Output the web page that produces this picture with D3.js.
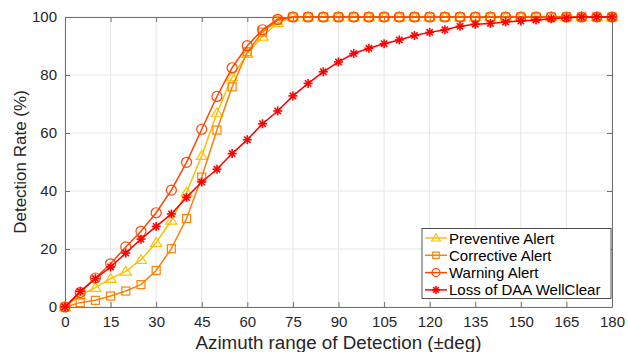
<!DOCTYPE html>
<html>
<head>
<meta charset="utf-8">
<script src="https://cdn.jsdelivr.net/npm/d3@7"></script>
<style>
  body { margin: 0; background: #fff; }
  svg { display: block; font-family: "Liberation Sans", Arial, sans-serif; }
</style>
</head>
<body>
<div id="chart"></div>
<script>
// Азимут (±град)
const azimuth = d3.range(0, 181, 5);

// Значения серий (%), 0..75, дальше 100
const preventive = [0, 4, 6.7, 9.8, 12.3, 16.3, 22.2, 29.9, 39.5, 52.2, 66.9, 79.3, 87.4, 93.3, 98, 100,
  100, 100, 100, 100, 100, 100, 100, 100, 100, 100, 100, 100, 100, 100, 100, 100, 100, 100, 100, 100, 100];
const corrective = [0, 1.5, 2.3, 3.8, 5.5, 7.7, 12.6, 20.1, 30.5, 44.8, 61, 75.9, 88, 94.8, 98.9, 100,
  100, 100, 100, 100, 100, 100, 100, 100, 100, 100, 100, 100, 100, 100, 100, 100, 100, 100, 100, 100, 100];
const warning = [0, 5, 10, 14.9, 20.7, 26.1, 32.5, 40.3, 49.9, 61.3, 72.6, 82.5, 90.1, 95.6, 99.2, 100,
  100, 100, 100, 100, 100, 100, 100, 100, 100, 100, 100, 100, 100, 100, 100, 100, 100, 100, 100, 100, 100];
const lossWellClear = [0, 5.4, 9.8, 13.8, 18.6, 23.4, 27.8, 32.1, 37.8, 43.1, 47.5, 52.9, 57.7, 63.2, 67.6, 72.8,
  77.1, 81.1, 84.5, 87.4, 89.2, 90.8, 92.1, 93.6, 94.7, 95.6, 96.8, 97.5, 97.8, 98.3, 98.6, 99, 99.4, 99.7, 100, 100, 100];

const xTicks = d3.range(0, 181, 15);
const yTicks = [0, 20, 40, 60, 80, 100];

const seriesNames = ['Preventive Alert', 'Corrective Alert', 'Warning Alert', 'Loss of DAA WellClear'];
const seriesColors = ['#FFC000', '#FF8000', '#FF4500', '#FF0000'];
const seriesMarkers = ['triangle', 'square', 'circle', 'star'];
const seriesValues = [preventive, corrective, warning, lossWellClear];

const W = 628, H = 352;
const margin = { left: 65, right: 16, top: 17, bottom: 45 };

const svg = d3.select('#chart').append('svg')
  .attr('width', W)
  .attr('height', H);

const x = d3.scaleLinear().domain([0, 180]).range([margin.left, W - margin.right]);
const y = d3.scaleLinear().domain([0, 100]).range([H - margin.bottom, margin.top]);

// Сетка
const grid = svg.append('g');
grid.selectAll('.gx').data(xTicks).enter().append('line')
  .attr('x1', d => x(d)).attr('x2', d => x(d))
  .attr('y1', y(0)).attr('y2', y(100))
  .attr('stroke', '#e6e6e6').attr('stroke-width', 1);
grid.selectAll('.gy').data(yTicks).enter().append('line')
  .attr('x1', x(0)).attr('x2', x(180))
  .attr('y1', d => y(d)).attr('y2', d => y(d))
  .attr('stroke', '#e6e6e6').attr('stroke-width', 1);

// Оси (тики внутрь)
svg.append('g')
  .attr('transform', `translate(0,${y(0)})`)
  .call(d3.axisBottom(x).tickValues(xTicks).tickSizeInner(-5).tickSizeOuter(0).tickPadding(9));
svg.append('g')
  .attr('transform', `translate(${x(0)},0)`)
  .call(d3.axisLeft(y).tickValues(yTicks).tickSizeInner(-5).tickSizeOuter(0).tickPadding(8));
// Верх и право
svg.append('g')
  .attr('transform', `translate(0,${y(100)})`)
  .call(d3.axisTop(x).tickValues(xTicks).tickSizeInner(-5).tickSizeOuter(0).tickFormat(''));
svg.append('g')
  .attr('transform', `translate(${x(180)},0)`)
  .call(d3.axisRight(y).tickValues(yTicks).tickSizeInner(-5).tickSizeOuter(0).tickFormat(''));

svg.selectAll('.domain').attr('stroke', '#707070');
svg.selectAll('.tick line').attr('stroke', '#707070');
svg.selectAll('.tick text')
  .attr('fill', '#262626')
  .attr('font-size', '15px')
  .attr('font-family', '"Liberation Sans", Arial, sans-serif');

// Подписи осей
svg.append('text')
  .attr('x', (x(0) + x(180)) / 2)
  .attr('y', 349)
  .attr('text-anchor', 'middle')
  .attr('font-size', '18.8px')
  .attr('fill', '#262626')
  .text('Azimuth range of Detection (\u00b1deg)');
svg.append('text')
  .attr('transform', `translate(26,${(y(0) + y(100)) / 2}) rotate(-90)`)
  .attr('text-anchor', 'middle')
  .attr('font-size', '17px')
  .attr('fill', '#262626')
  .text('Detection Rate (%)');

// Маркеры
function drawMarker(g, type, color, cx, cy, s) {
  if (type === 'triangle') {
    g.append('path')
      .attr('d', `M${cx},${cy - s}L${cx + s * 1.1},${cy + s * 0.75}L${cx - s * 1.1},${cy + s * 0.75}Z`)
      .attr('fill', 'none').attr('stroke', color).attr('stroke-width', 1.2);
  } else if (type === 'square') {
    g.append('rect')
      .attr('x', cx - s * 0.8).attr('y', cy - s * 0.8)
      .attr('width', s * 1.6).attr('height', s * 1.6)
      .attr('fill', 'none').attr('stroke', color).attr('stroke-width', 1.2);
  } else if (type === 'circle') {
    g.append('circle')
      .attr('cx', cx).attr('cy', cy).attr('r', s)
      .attr('fill', 'none').attr('stroke', color).attr('stroke-width', 1.2);
  } else {
    for (let a = 0; a < 4; a++) {
      const ang = a * Math.PI / 4;
      g.append('line')
        .attr('x1', cx - Math.cos(ang) * s).attr('y1', cy - Math.sin(ang) * s)
        .attr('x2', cx + Math.cos(ang) * s).attr('y2', cy + Math.sin(ang) * s)
        .attr('stroke', color).attr('stroke-width', 1.6);
    }
  }
}

const line = d3.line().x((d, i) => x(azimuth[i])).y(d => y(d));

const plot = svg.append('g');
seriesValues.forEach((vals, k) => {
  const g = plot.append('g');
  g.append('path')
    .datum(vals)
    .attr('d', line)
    .attr('fill', 'none')
    .attr('stroke', seriesColors[k])
    .attr('stroke-width', 1.5);
  vals.forEach((v, i) => {
    drawMarker(g, seriesMarkers[k], seriesColors[k], x(azimuth[i]), y(v), seriesMarkers[k] === 'star' ? 4.5 : 5);
  });
});

// Легенда
const lg = svg.append('g');
lg.append('rect')
  .attr('x', 422).attr('y', 228.5)
  .attr('width', 189).attr('height', 70)
  .attr('fill', '#fff')
  .attr('stroke', '#262626').attr('stroke-width', 0.8);
seriesNames.forEach((name, k) => {
  const ly = 238 + k * 17.3;
  lg.append('line')
    .attr('x1', 425).attr('x2', 447)
    .attr('y1', ly).attr('y2', ly)
    .attr('stroke', seriesColors[k]).attr('stroke-width', 1.5);
  drawMarker(lg, seriesMarkers[k], seriesColors[k], 436, ly, 4);
  lg.append('text')
    .attr('x', 449).attr('y', ly + 5.5)
    .attr('font-size', '15px')
    .attr('fill', '#000')
    .text(name);
});
</script>
</body>
</html>
